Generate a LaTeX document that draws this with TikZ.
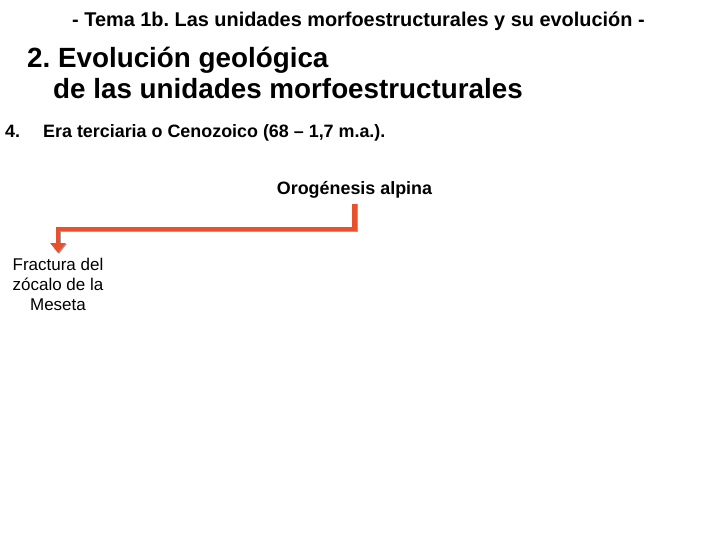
\documentclass[tikz,border=0pt]{standalone}
\usepackage{fontspec}
\setmainfont{Liberation Sans}
\usetikzlibrary{arrows.meta,positioning}
\definecolor{arrowred}{HTML}{E8512B}
\definecolor{shade}{HTML}{8A8A8A}
\definecolor{ink}{HTML}{000000}
\frenchspacing
\tikzset{
  toptitle/.style={anchor=base west,inner sep=0pt,text=ink,
                   font=\bfseries\fontsize{19.9}{22}\selectfont},
  heading/.style={anchor=base west,inner sep=0pt,text=ink,
                  font=\bfseries\fontsize{27.8}{30}\selectfont},
  itemtext/.style={anchor=base west,inner sep=0pt,text=ink,
                   font=\bfseries\fontsize{17.9}{20}\selectfont},
  boxtext/.style={align=center,inner sep=0pt,text=ink,
                  font=\fontsize{17}{20}\selectfont},
  flowarr/.style={-{Triangle[length=10pt,width=15pt]},line width=4.5pt,
                  draw=arrowred},
  shadearr/.style={-{Triangle[length=10pt,width=15pt]},line width=4.5pt,
                   draw=shade!80}
}

\begin{document}
\begin{tikzpicture}[x=1pt,y=-1pt]
    \path[use as bounding box,fill=white] (0,0) rectangle (720,540);
    \node[toptitle] (tema) at (72,27)
      {- Tema 1b. Las unidades morfoestructurales y su evolución -};
    \node[heading] (head1) at (27,68) {2. Evolución geológica};
    \node[heading] (head2) at (53,99) {de las unidades morfoestructurales};
    \node[itemtext] (num) at (5,138) {4.};
    \node[itemtext] (era) at (43,138)
      {Era terciaria o Cenozoico (68 -- 1,7 m.a.).};

    \node[itemtext,anchor=base] (orog) at (354.5,195) {Orogénesis alpina};
    \node[boxtext,anchor=north] (frac) at (58,258)
      {Fractura del\\zócalo de la\\Meseta};

    \draw[shadearr] ([shift={(1,5)}]orog.south) -- ++(0,26) -| ([shift={(1,-4)}]frac.north);
    \draw[flowarr] ([shift={(0,5)}]orog.south) -- ++(0,25) -| ([shift={(0,-5)}]frac.north);
\end{tikzpicture}
\end{document}
